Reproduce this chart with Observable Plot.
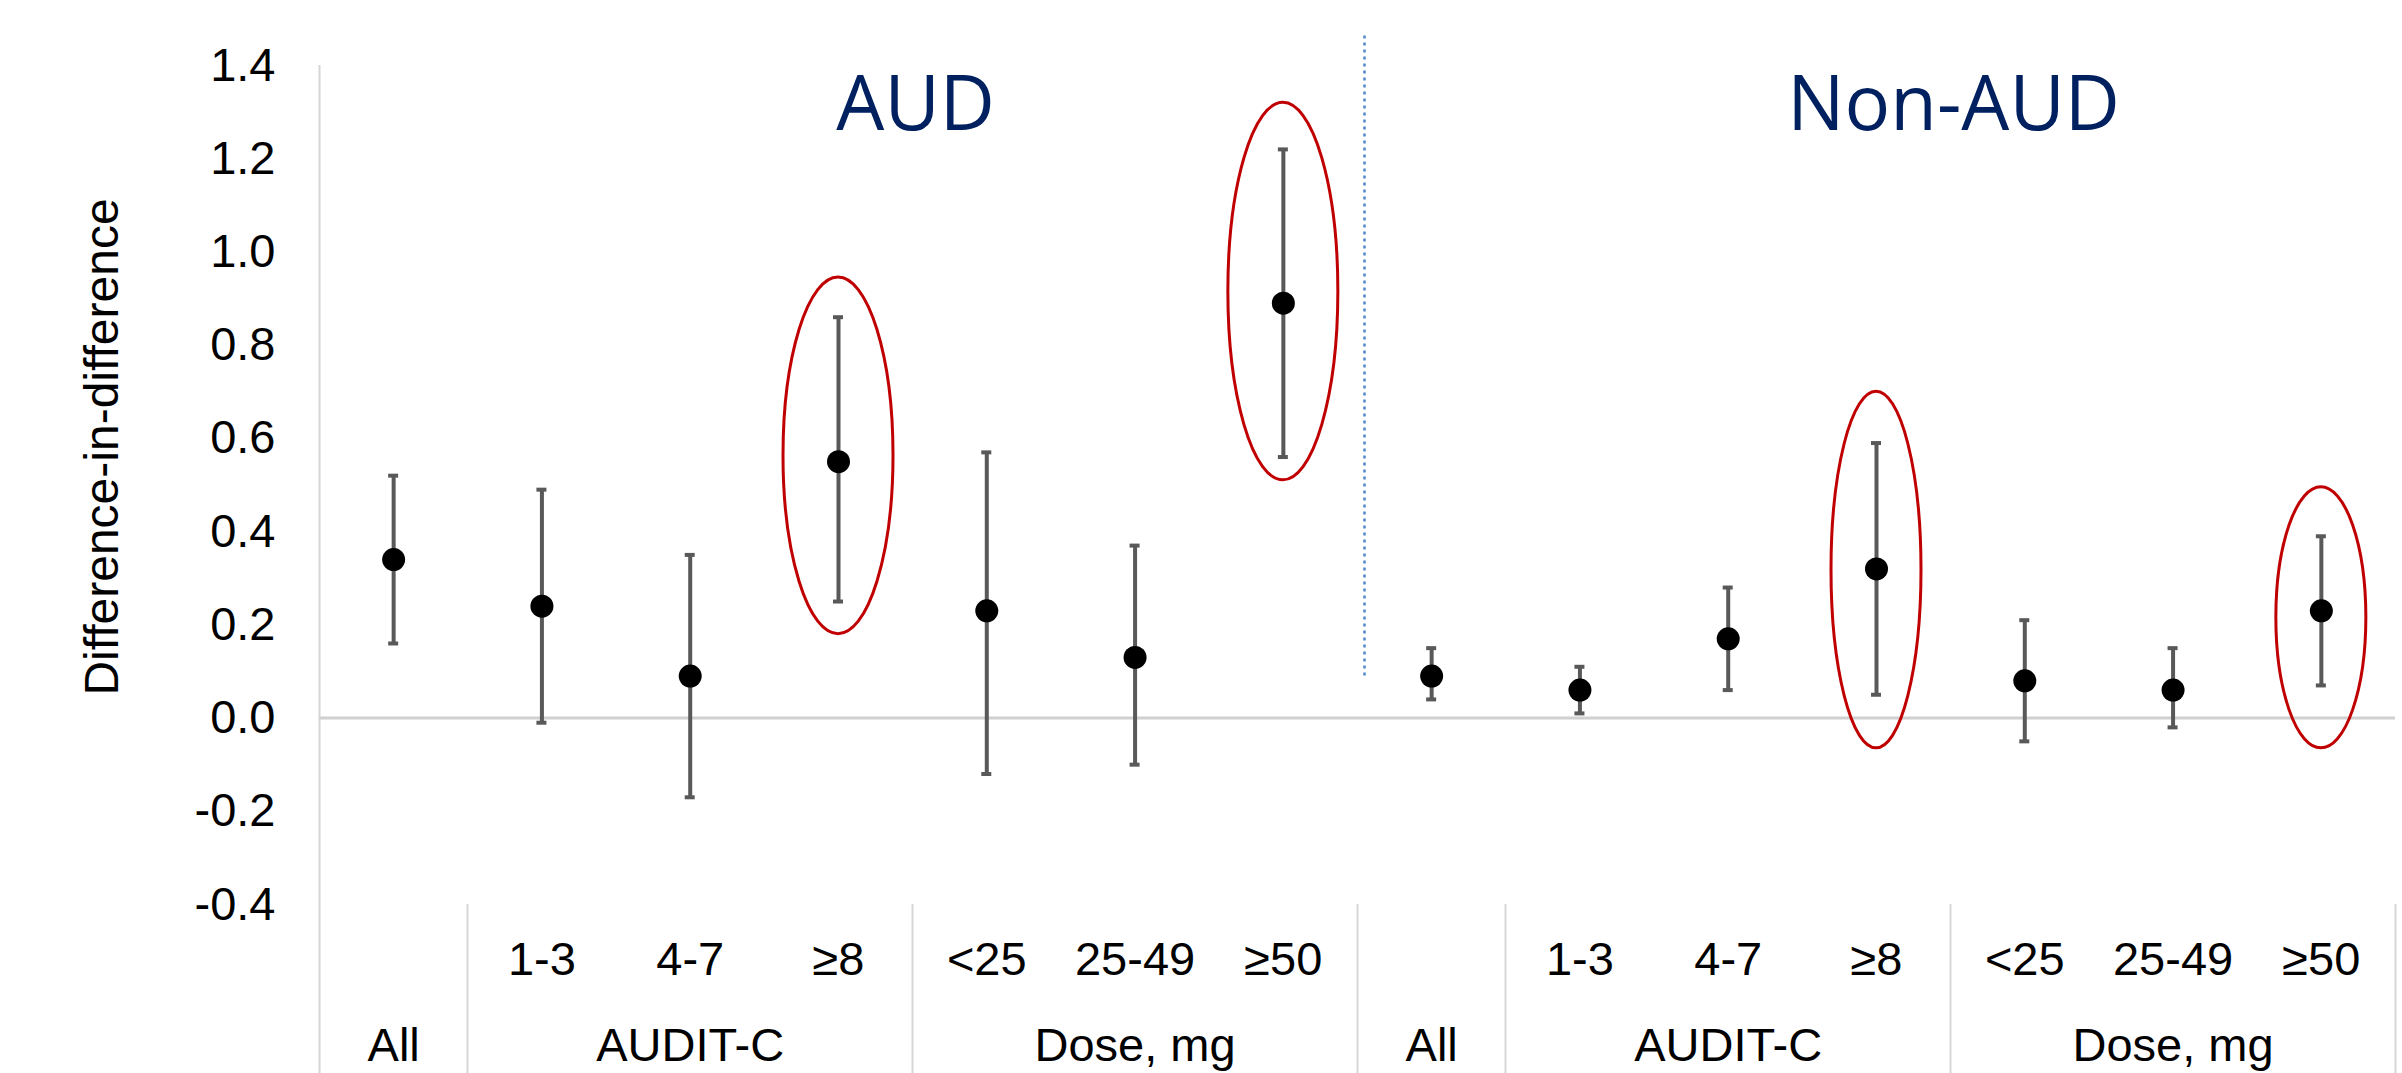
<!DOCTYPE html>
<html>
<head>
<meta charset="utf-8">
<script src="https://cdn.jsdelivr.net/npm/d3@7"></script>
<script src="https://cdn.jsdelivr.net/npm/@observablehq/plot@0.6"></script>
<style>
  html, body { margin: 0; padding: 0; background: #ffffff; }
  #chart svg { display: block; }
</style>
</head>
<body>
<div id="chart"></div>
<script>
// ---------- data ----------
const cohorts   = ["AUD","AUD","AUD","AUD","AUD","AUD","AUD",
                   "Non-AUD","Non-AUD","Non-AUD","Non-AUD","Non-AUD","Non-AUD","Non-AUD"];
const groups    = ["All","AUDIT-C","AUDIT-C","AUDIT-C","Dose, mg","Dose, mg","Dose, mg",
                   "All","AUDIT-C","AUDIT-C","AUDIT-C","Dose, mg","Dose, mg","Dose, mg"];
const levels    = ["","1-3","4-7","≥8","<25","25-49","≥50",
                   "","1-3","4-7","≥8","<25","25-49","≥50"];
const estimates = [0.34, 0.24, 0.09, 0.55, 0.23, 0.13, 0.89,
                   0.09, 0.06, 0.17, 0.32, 0.08, 0.06, 0.23];
const lowerCI   = [0.16, -0.01, -0.17, 0.25, -0.12, -0.10, 0.56,
                   0.04, 0.01, 0.06, 0.05, -0.05, -0.02, 0.07];
const upperCI   = [0.52, 0.49, 0.35, 0.86, 0.57, 0.37, 1.22,
                   0.15, 0.11, 0.28, 0.59, 0.21, 0.15, 0.39];
const yTicks    = [-0.4, -0.2, 0.0, 0.2, 0.4, 0.6, 0.8, 1.0, 1.2, 1.4];
const yLabel    = "Difference-in-difference";
const panelTitles = ["AUD", "Non-AUD"];

// highlighted (circled) estimates: category index and the vertical extent of the ring
const highlightIndex = [3, 6, 10, 13];
const highlightLow   = [0.18, 0.51, -0.065, -0.065];
const highlightHigh  = [0.945, 1.32, 0.70, 0.495];

// separator between cohorts (vertical extent in data units)
const separatorSpan = [0.09, 1.465];

// ---------- derived tables ----------
const rows = estimates.map((e, i) => ({
  i, cohort: cohorts[i], group: groups[i], level: levels[i],
  est: e, lo: lowerCI[i], hi: upperCI[i]
}));

// runs of consecutive (cohort, group)
const runs = [];
rows.forEach(r => {
  const last = runs[runs.length - 1];
  if (last && last.cohort === r.cohort && last.group === r.group) last.end = r.i;
  else runs.push({cohort: r.cohort, group: r.group, start: r.i, end: r.i});
});
runs.forEach(r => r.center = (r.start + r.end) / 2);
const boundaries = [...runs.map(r => r.start - 0.5), rows.length - 0.5];

// cohort title positions: the boundary between AUDIT-C and Dose groups in each cohort
const titleRows = panelTitles.map(c => {
  const dose = runs.find(r => r.cohort === c && r.group === "Dose, mg");
  return {label: c, x: dose.start - 0.5};
});
const cohortSplit = runs.find(r => r.cohort === "Non-AUD").start - 0.5;

const rings = highlightIndex.map((k, j) => ({
  x: k, lo: highlightLow[j], hi: highlightHigh[j], rx: j < 2 ? 55 : 45
}));

// ---------- styling ----------
const FONT = "'Liberation Sans', Arial, Helvetica, sans-serif";
const W = 2402, H = 1073;
const M = {top: 65, right: 7, bottom: 169, left: 319};

// ---------- custom marks ----------
function gridLines(index, scales, values, dims) {
  const g = d3.create("svg:g");
  boundaries.forEach((b, j) => {
    const x = Math.round(scales.x(b)) + 0.5;
    g.append("line")
      .attr("x1", x).attr("x2", x)
      .attr("y1", j === 0 ? dims.marginTop : dims.height - dims.marginBottom)
      .attr("y2", dims.height)
      .attr("stroke", "#d6d6d6").attr("stroke-width", 2);
  });
  return g.node();
}

function ringMarks(index, scales, values, dims) {
  const g = d3.create("svg:g");
  rings.forEach(r => {
    const yTop = scales.y(r.hi), yBot = scales.y(r.lo);
    g.append("ellipse")
      .attr("cx", scales.x(r.x))
      .attr("cy", (yTop + yBot) / 2)
      .attr("rx", r.rx)
      .attr("ry", (yBot - yTop) / 2)
      .attr("fill", "none")
      .attr("stroke", "#c00000")
      .attr("stroke-width", 3);
  });
  return g.node();
}

// ---------- plot ----------
const chart = Plot.plot({
  width: W,
  height: H,
  marginTop: M.top,
  marginRight: M.right,
  marginBottom: M.bottom,
  marginLeft: M.left,
  style: {fontFamily: FONT, fontSize: "47px", color: "#000", background: "#fff"},
  x: {type: "linear", domain: [-0.5, rows.length - 0.5], axis: null},
  y: {domain: [-0.4, 1.4], axis: null},
  marks: [
    gridLines,
    Plot.ruleY([0], {stroke: "#d0d0d0", strokeWidth: 3}),
    Plot.axisY({
      ticks: yTicks, tickFormat: d => d.toFixed(1), tickSize: 0, tickPadding: 44,
      fontSize: 47, fill: "#000", label: null
    }),
    // cohort separator
    Plot.ruleX([cohortSplit], {
      y1: separatorSpan[0], y2: separatorSpan[1], dx: 7,
      stroke: "#4f86cc", strokeWidth: 2.5, strokeDasharray: "3,4"
    }),
    // error bars
    Plot.ruleX(rows, {x: "i", y1: "lo", y2: "hi", stroke: "#595959", strokeWidth: 4}),
    Plot.ruleY(rows, {x1: "i", x2: "i", y: "lo", insetLeft: -5, insetRight: -5, stroke: "#595959", strokeWidth: 4}),
    Plot.ruleY(rows, {x1: "i", x2: "i", y: "hi", insetLeft: -5, insetRight: -5, stroke: "#595959", strokeWidth: 4}),
    Plot.dot(rows, {x: "i", y: "est", r: 11.5, fill: "#000", stroke: "none"}),
    ringMarks,
    // panel titles
    Plot.text(titleRows, {
      x: "x", text: "label", frameAnchor: "top", dy: 40, dx: 3, lineAnchor: "middle",
      fontFamily: "'Open Sans', 'Noto Sans', sans-serif", fontSize: 76, fill: "#002060"
    }),
    // category level labels
    Plot.text(rows.filter(r => r.level), {
      x: "i", text: "level", frameAnchor: "bottom", dy: 55, lineAnchor: "middle",
      fontSize: 47, fill: "#000"
    }),
    // group labels
    Plot.text(runs, {
      x: "center", text: "group", frameAnchor: "bottom", dy: 141, lineAnchor: "middle",
      fontSize: 47, fill: "#000"
    }),
    // y-axis title
    Plot.text([yLabel], {
      text: d => d, frameAnchor: "left", textAnchor: "middle", lineAnchor: "middle",
      rotate: -90, dx: -217, dy: -38, fontSize: 48, fill: "#000"
    })
  ]
});
document.getElementById("chart").appendChild(chart);
</script>
</body>
</html>
